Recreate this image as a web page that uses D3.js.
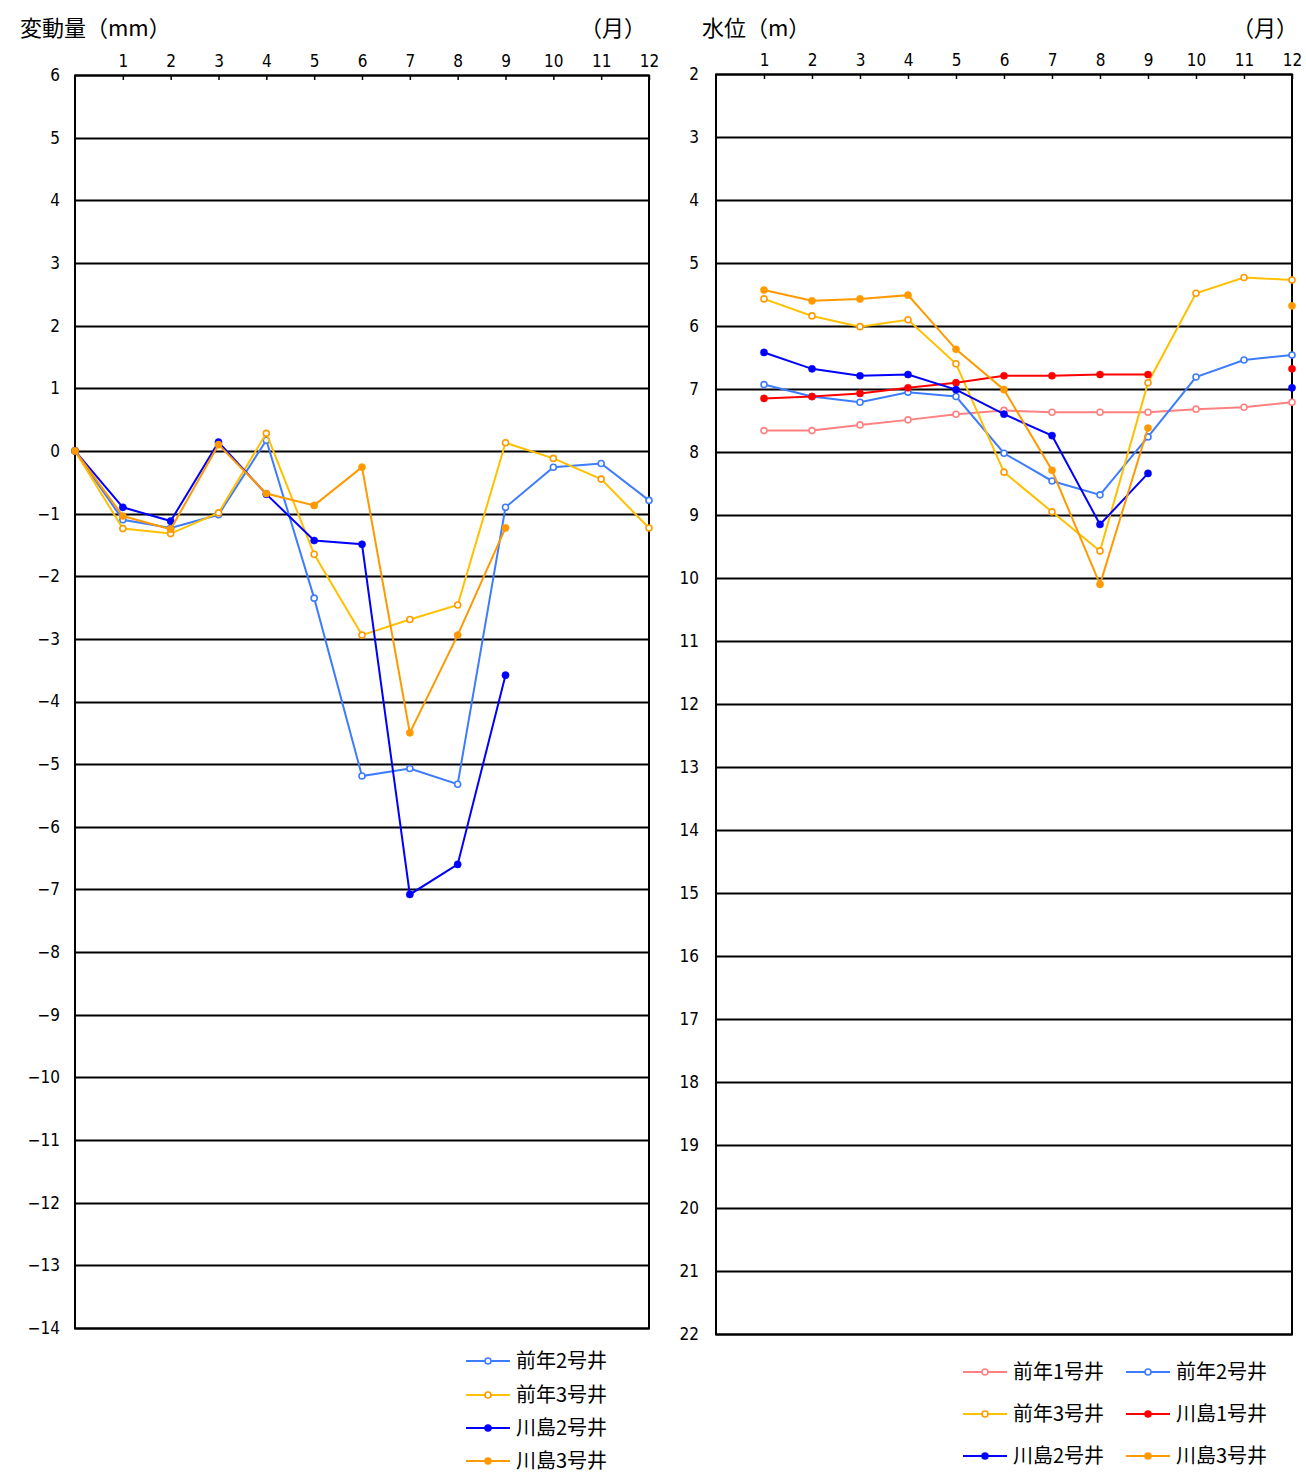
<!DOCTYPE html>
<html>
<head>
<meta charset="utf-8">
<script src="https://cdn.jsdelivr.net/npm/d3@7"></script>
<style>
  html, body { margin: 0; padding: 0; background: #fff; }
  svg text { fill: #000; }
  .num { font-family: "Liberation Sans Narrow", "DejaVu Sans Condensed", "Noto Sans CJK JP", sans-serif; }
  .jp { font-family: "Noto Sans CJK JP", sans-serif; }
</style>
</head>
<body>
<svg id="chart" width="1306" height="1474"></svg>
<script>
// ---------- data ----------
const monthsLeft = [0, 1, 2, 3, 4, 5, 6, 7, 8, 9, 10, 11, 12];
const monthsRight = [1, 2, 3, 4, 5, 6, 7, 8, 9, 10, 11, 12];
const monthTicks = [1, 2, 3, 4, 5, 6, 7, 8, 9, 10, 11, 12];
const leftTicks = d3.range(-14, 7, 1);
const rightTicks = d3.range(2, 23, 1);

const leftTitle = "変動量（mm）";
const rightTitle = "水位（m）";
const monthUnit = "（月）";

// 変動量 (mm)
const leftNames = ["前年2号井", "前年3号井", "川島2号井", "川島3号井"];
const left_prev2 = [0, -1.10, -1.23, -1.02, 0.17, -2.35, -5.19, -5.07, -5.32, -0.90, -0.26, -0.20, -0.79];
const left_prev3 = [0, -1.24, -1.32, -0.99, 0.28, -1.65, -2.94, -2.69, -2.46, 0.13, -0.12, -0.45, -1.23];
const left_kawa2 = [0, -0.90, -1.12, 0.14, -0.69, -1.43, -1.49, -7.08, -6.60, -3.58, null, null, null];
const left_kawa3 = [0, -1.04, -1.25, 0.10, -0.68, -0.87, -0.26, -4.50, -2.94, -1.23, null, null, null];

// 水位 (m)
const rightNames = ["前年1号井", "前年2号井", "前年3号井", "川島1号井", "川島2号井", "川島3号井"];
const right_prev1 = [7.66, 7.66, 7.57, 7.49, 7.40, 7.34, 7.37, 7.37, 7.37, 7.32, 7.29, 7.21];
const right_prev2 = [6.93, 7.12, 7.21, 7.05, 7.12, 8.02, 8.46, 8.68, 7.76, 6.81, 6.54, 6.46];
const right_prev3 = [5.57, 5.84, 6.01, 5.90, 6.60, 8.32, 8.95, 9.57, 6.90, 5.48, 5.23, 5.27];
const right_kawa1 = [7.15, 7.12, 7.07, 6.98, 6.90, 6.79, 6.79, 6.77, 6.77, null, null, 6.68];
const right_kawa2 = [6.42, 6.68, 6.79, 6.77, 7.01, 7.40, 7.74, 9.15, 8.34, null, null, 6.98];
const right_kawa3 = [5.43, 5.60, 5.57, 5.51, 6.37, 7.01, 8.29, 10.10, 7.62, null, null, 5.68];

// ---------- styles ----------
const styles = {
  "前年1号井": { line: "#ff8080", marker: "#ff8080", filled: false },
  "前年2号井": { line: "#3d7cff", marker: "#3d7cff", filled: false },
  "前年3号井": { line: "#ffc000", marker: "#ff9900", filled: false },
  "川島1号井": { line: "#ff0000", marker: "#ff0000", filled: true },
  "川島2号井": { line: "#0000ff", marker: "#0000ff", filled: true },
  "川島3号井": { line: "#ff9900", marker: "#ff9900", filled: true }
};

const svg = d3.select("#chart");

function drawPanel(cfg) {
  const g = svg.append("g");
  const x = d3.scaleLinear().domain([0, 12]).range([cfg.x0, cfg.x1]);
  const y = d3.scaleLinear().domain(cfg.yDomain).range([cfg.y0, cfg.y1]);

  // grid lines
  g.append("g").selectAll("line").data(cfg.yTicks).join("line")
    .attr("x1", cfg.x0).attr("x2", cfg.x1)
    .attr("y1", d => Math.round(y(d)) + 0.5).attr("y2", d => Math.round(y(d)) + 0.5)
    .attr("stroke", "#000").attr("stroke-width", 1.8);

  // frame
  g.append("rect")
    .attr("x", cfg.x0).attr("y", Math.round(cfg.y0) + 0.5)
    .attr("width", cfg.x1 - cfg.x0).attr("height", Math.round(cfg.y1) - Math.round(cfg.y0))
    .attr("fill", "none").attr("stroke", "#000").attr("stroke-width", 2);

  // top month axis
  const ax = g.append("g").attr("transform", `translate(0,${cfg.y0})`)
    .call(d3.axisTop(x).tickValues(monthTicks).tickSize(-5).tickPadding(8).tickSizeOuter(0));
  ax.select(".domain").remove();
  ax.selectAll("line").attr("stroke", "#000").attr("stroke-width", 1.5);
  ax.selectAll("text").attr("class", "num").attr("font-size", 17);

  // left value axis
  const ay = g.append("g").attr("transform", `translate(${cfg.x0},0)`)
    .call(d3.axisLeft(y).tickValues(cfg.yTicks).tickSize(0).tickPadding(cfg.yPad)
      .tickFormat(d => d < 0 ? "\u2212" + Math.abs(d) : String(d)));
  ay.select(".domain").remove();
  ay.selectAll("text").attr("class", "num").attr("font-size", 17);

  // titles
  g.append("text").attr("class", "jp").attr("x", cfg.titleX).attr("y", 36)
    .attr("font-size", 22).text(cfg.title);
  g.append("text").attr("class", "jp").attr("x", cfg.unitX).attr("y", 36)
    .attr("text-anchor", "end").attr("font-size", 22).text(monthUnit);

  // series
  const line = d3.line().defined(d => d.v !== null).x(d => x(d.m)).y(d => y(d.v));
  cfg.series.forEach(s => {
    const st = styles[s.name];
    const pts = s.values.map((v, i) => ({ m: cfg.months[i], v }));
    g.append("path").datum(pts).attr("d", line)
      .attr("fill", "none").attr("stroke", st.line).attr("stroke-width", 2);
    g.append("g").selectAll("circle").data(pts.filter(d => d.v !== null)).join("circle")
      .attr("cx", d => x(d.m)).attr("cy", d => y(d.v))
      .attr("r", st.filled ? 3.6 : 3)
      .attr("fill", st.filled ? st.marker : "#fff")
      .attr("stroke", st.marker).attr("stroke-width", st.filled ? 0.5 : 1.6);
  });

  // legend
  const lg = g.append("g");
  cfg.legend.forEach(item => {
    const st = styles[item.name];
    const row = lg.append("g").attr("transform", `translate(${item.x},${item.y})`);
    row.append("line").attr("x1", 0).attr("x2", 44).attr("y1", 0).attr("y2", 0)
      .attr("stroke", st.line).attr("stroke-width", 2);
    row.append("circle").attr("cx", 22).attr("cy", 0).attr("r", st.filled ? 3.6 : 3)
      .attr("fill", st.filled ? st.marker : "#fff").attr("stroke", st.marker)
      .attr("stroke-width", st.filled ? 0.5 : 1.6);
    row.append("text").attr("class", "jp").attr("x", 50).attr("y", 0).attr("dy", "0.35em")
      .attr("font-size", 20).text(item.name);
  });
}

drawPanel({
  x0: 75, x1: 649, y0: 75, y1: 1328,
  yDomain: [6, -14], yTicks: leftTicks, yPad: 15,
  months: monthsLeft,
  title: leftTitle, titleX: 20, unitX: 646,
  series: [
    { name: "前年2号井", values: left_prev2 },
    { name: "前年3号井", values: left_prev3 },
    { name: "川島2号井", values: left_kawa2 },
    { name: "川島3号井", values: left_kawa3 }
  ],
  legend: [
    { name: leftNames[0], x: 466, y: 1361 },
    { name: leftNames[1], x: 466, y: 1395 },
    { name: leftNames[2], x: 466, y: 1428 },
    { name: leftNames[3], x: 466, y: 1461 }
  ]
});

drawPanel({
  x0: 716, x1: 1292, y0: 74, y1: 1334,
  yDomain: [2, 22], yTicks: rightTicks, yPad: 17,
  months: monthsRight,
  title: rightTitle, titleX: 702, unitX: 1298,
  series: [
    { name: "前年1号井", values: right_prev1 },
    { name: "前年2号井", values: right_prev2 },
    { name: "前年3号井", values: right_prev3 },
    { name: "川島1号井", values: right_kawa1 },
    { name: "川島2号井", values: right_kawa2 },
    { name: "川島3号井", values: right_kawa3 }
  ],
  legend: [
    { name: rightNames[0], x: 963, y: 1372 },
    { name: rightNames[1], x: 1126, y: 1372 },
    { name: rightNames[2], x: 963, y: 1414 },
    { name: rightNames[3], x: 1126, y: 1414 },
    { name: rightNames[4], x: 963, y: 1456 },
    { name: rightNames[5], x: 1126, y: 1456 }
  ]
});
</script>
</body>
</html>
